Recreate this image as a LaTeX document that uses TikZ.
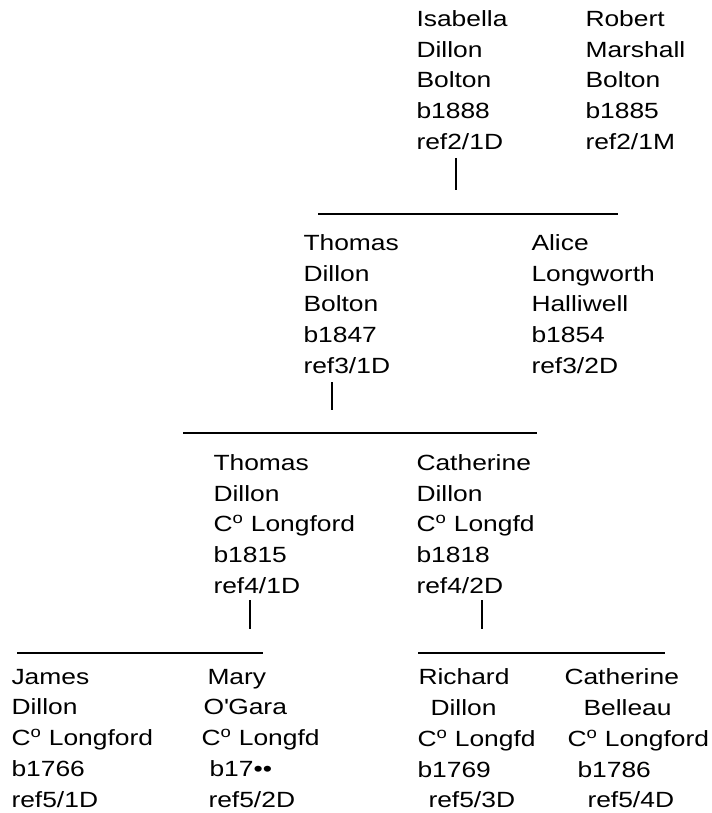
\documentclass[tikz,border=0pt]{standalone}
\usepackage{fontspec}
\setmainfont{Liberation Sans}[FakeStretch=1.2]
\newcommand{\personfont}{\fontsize{16.5}{23.06}\selectfont}
\newcommand{\Co}{C\textsuperscript{o}}

\tikzset{
	person/.style={anchor=north west, inner sep=0pt, align=left, font=\personfont},
	bar/.style={line width=1.1pt}}
\tikzset{every picture/.style={line width=0.75pt}}

\begin{document}
\begin{tikzpicture}[x=0.75pt,y=0.75pt,yscale=-1,xscale=1]
	\useasboundingbox (0,0) rectangle (711,813);

	% Text Node
	\node [person] (isabella) at (416,10) {Isabella\\Dillon\\Bolton\\b1888\\ref2/1D};
	% Text Node
	\node [person] (robert) at (585,10) {Robert\\Marshall\\Bolton\\b1885\\ref2/1M};
	% Text Node
	\node [person] (thomasB) at (303,234) {Thomas\\Dillon\\Bolton\\b1847\\ref3/1D};
	% Text Node
	\node [person] (alice) at (531,234) {Alice\\Longworth\\Halliwell\\b1854\\ref3/2D};
	% Text Node
	\node [person] (thomasL) at (213,454) {Thomas\\Dillon\\\Co{} Longford\\b1815\\ref4/1D};
	% Text Node
	\node [person] (catherineL) at (416,454) {Catherine\\Dillon\\\Co{} Longfd\\b1818\\ref4/2D};
	% Text Node
	\node [person] (james) at (11,668.5) {James\\Dillon\\\Co{} Longford\\b1766\\ref5/1D};
	% Text Node
	\node [person] (mary) at (201,668.5) {\hspace*{4.5pt}Mary\\\hspace*{1.5pt}O\textquotesingle Gara\\\Co{} Longfd\\\hspace*{6pt}b17••\\\hspace*{5.25pt}ref5/2D};
	% Text Node
	\node [person] (richard) at (417,668.5) {\hspace*{0.75pt}Richard\\\hspace*{9.75pt}Dillon\\\Co{} Longfd\\b1769\\\hspace*{8.25pt}ref5/3D};
	% Text Node
	\node [person] (catherineB) at (564,668.5) {Catherine\\\hspace*{14.25pt}Belleau\\\hspace*{2.25pt}\Co{} Longford\\\hspace*{9.75pt}b1786\\\hspace*{17.25pt}ref5/4D};

	% line end points
	\coordinate (isabella-up) at (456,158);
	\coordinate (isabella-down) at (456,190);
	\coordinate (parents1-w) at (318,214);
	\coordinate (parents1-e) at (618,214);
	\coordinate (thomasB-up) at (332,382);
	\coordinate (thomasB-down) at (332,410);
	\coordinate (parents2-w) at (183,433);
	\coordinate (parents2-e) at (537,433);
	\coordinate (thomasL-up) at (250,600);
	\coordinate (thomasL-down) at (250,629);
	\coordinate (catherineL-up) at (482,600);
	\coordinate (catherineL-down) at (482,629);
	\coordinate (parents3-w) at (17,653);
	\coordinate (parents3-e) at (263,653);
	\coordinate (parents4-w) at (418,653);
	\coordinate (parents4-e) at (665,653);

	%Straight Lines
	\draw [bar] (isabella-up) -- (isabella-down);
	%Straight Lines
	\draw [bar] (parents1-w) -- (parents1-e);
	%Straight Lines
	\draw [bar] (thomasB-up) -- (thomasB-down);
	%Straight Lines
	\draw [bar] (parents2-w) -- (parents2-e);
	%Straight Lines
	\draw [bar] (thomasL-up) -- (thomasL-down);
	%Straight Lines
	\draw [bar] (catherineL-up) -- (catherineL-down);
	%Straight Lines
	\draw [bar] (parents3-w) -- (parents3-e);
	%Straight Lines
	\draw [bar] (parents4-w) -- (parents4-e);

\end{tikzpicture}
\end{document}
